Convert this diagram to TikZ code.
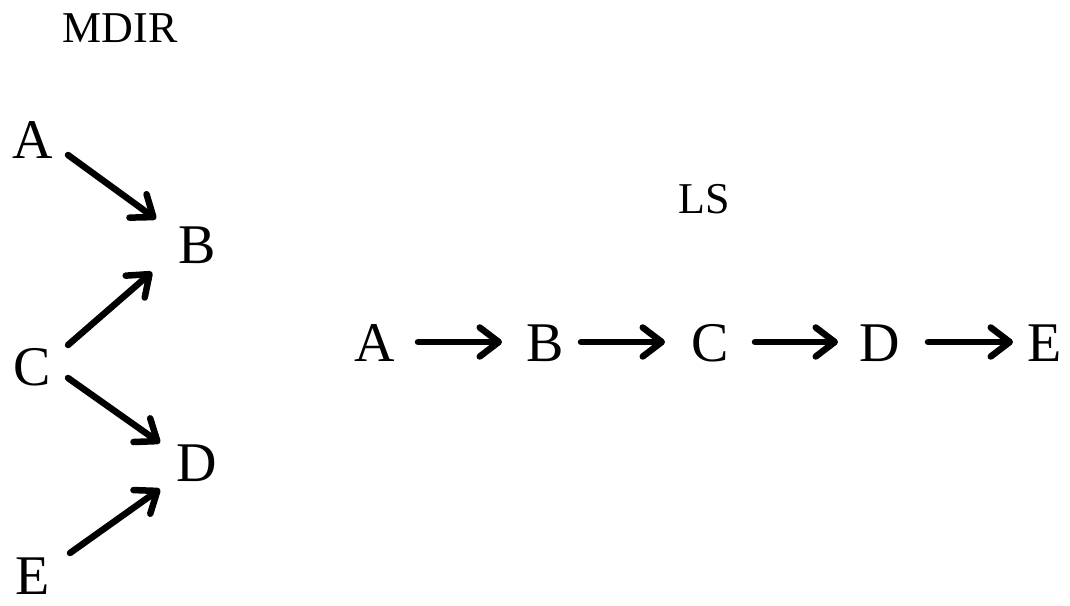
\documentclass[tikz,border=0pt]{standalone}
\usepackage{fontspec}
\setmainfont{Liberation Serif}
\usetikzlibrary{arrows.meta}
\begin{document}
\begin{tikzpicture}[x=1pt,y=-1pt,
  lbl/.style={inner sep=0pt,font=\fontsize{56}{60}\selectfont},
  ttl/.style={inner sep=0pt,font=\fontsize{44}{48}\selectfont},
  arr/.style={line width=6.5pt,line cap=round,-{Straight Barb[length=19pt,width=29pt,round]}}]
\useasboundingbox (0,0) rectangle (1070,605);
\node[ttl] (t1) at (120,28) {MDIR};
\node[ttl] (t2) at (704,199) {LS};
\node[lbl] (lA) at (33,140) {A};
\node[lbl] (lB) at (197,245) {B};
\node[lbl] (lC) at (32,367) {C};
\node[lbl] (lD) at (197,463) {D};
\node[lbl] (lE) at (33,576) {E};
\draw[arr] ([shift={(35,15)}]lA.center) -- ([shift={(-41,-26)}]lB.center);
\draw[arr] ([shift={(36,-22)}]lC.center) -- ([shift={(-45,27)}]lB.center);
\draw[arr] ([shift={(36,11)}]lC.center) -- ([shift={(-37,-20)}]lD.center);
\draw[arr] ([shift={(37,-23)}]lE.center) -- ([shift={(-37,26)}]lD.center);
\node[lbl] (rA) at (375,343) {A};
\node[lbl] (rB) at (545,343) {B};
\node[lbl] (rC) at (710,343) {C};
\node[lbl] (rD) at (880,343) {D};
\node[lbl] (rE) at (1045,343) {E};
\draw[arr] ([shift={(43,-1)}]rA.center) -- ([shift={(-43,-1)}]rB.center);
\draw[arr] ([shift={(36,-1)}]rB.center) -- ([shift={(-45,-1)}]rC.center);
\draw[arr] ([shift={(45,-1)}]rC.center) -- ([shift={(-42,-1)}]rD.center);
\draw[arr] ([shift={(48,-1)}]rD.center) -- ([shift={(-32,-1)}]rE.center);
\end{tikzpicture}
\end{document}
